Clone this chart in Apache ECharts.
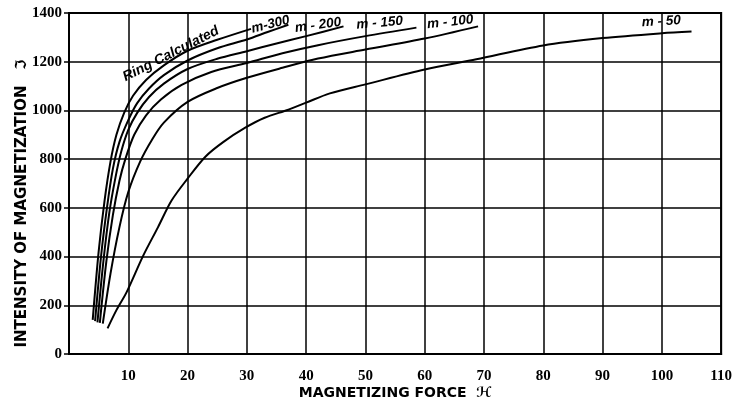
<!DOCTYPE html>
<html>
<head>
<meta charset="utf-8">
<script src="https://cdn.jsdelivr.net/npm/echarts@6/dist/echarts.min.js"></script>
<style>
html,body{margin:0;padding:0;background:#fff;}
#main{width:735px;height:405px;}
</style>
</head>
<body>
<div id="main"></div>
<script>
// curves: [H, I]
var ringData = [[4,140],[5,420],[6,630],[7,790],[8,900],[9.3,990],[10.8,1060],[13,1125],[16,1185],[20,1245],[25,1290],[30.7,1335]];
var m300Data = [[4.4,135],[5.4,400],[6.4,600],[7.4,760],[8.5,870],[10,960],[11.5,1030],[13.5,1090],[16,1145],[20,1205],[25,1255],[30,1291],[33.5,1322],[37,1352]];
var m200Data = [[4.8,130],[5.8,380],[6.8,580],[7.8,720],[8.8,830],[10,920],[11.5,990],[13.5,1055],[16,1110],[20,1170],[25,1212],[30,1243],[35,1275],[40,1305],[46.3,1345]];
var m150Data = [[5.2,128],[6.3,380],[7.4,570],[8.5,710],[9.5,800],[11,900],[13,980],[15.5,1045],[19,1105],[24,1158],[30,1195],[36,1235],[42,1268],[50,1305],[58.6,1340]];
var m100Data = [[5.7,125],[7,330],[8.5,520],[10,665],[12,790],[14,880],[16,950],[20,1035],[25,1092],[30,1134],[36,1175],[42,1213],[50,1250],[60,1295],[69,1345]];
var m50Data = [[6.5,105],[8,180],[9.7,253],[12.5,403],[15,520],[17.3,630],[20,720],[23,810],[26,870],[29.8,930],[33,970],[37,1003],[40,1032],[44,1070],[50,1107],[60,1168],[68.7,1210],[80,1267],[90,1297],[100,1317],[105,1324]];

// label text, anchor [H, I], slant in degrees, size
var curveLabels = [
    ['Ring Calculated', 17.2, 1232, 27, 14],
    ['m-300', 34.0, 1353, 14, 13.5],
    ['m - 200', 42.0, 1350, 8, 13.5],
    ['m - 150', 52.4, 1359, 5, 13.5],
    ['m - 100', 64.3, 1363, 6, 13.5],
    ['m - 50', 99.9, 1365, 3, 13.5]
];

var chart = echarts.init(document.getElementById('main'));

function makeCurve(name, data){
    return {
        name: name,
        type: 'line',
        data: data,
        smooth: 0.3,
        symbol: 'none',
        lineStyle: {color: '#000', width: 2},
        z: 5,
        silent: true
    };
}

var tickFont = {color: '#000', fontFamily: 'Liberation Serif', fontWeight: 'bold', fontSize: 15};

var option = {
    animation: false,
    backgroundColor: '#fff',
    grid: {left: 69, right: 8, top: 13, bottom: 47, show: true, borderColor: '#000', borderWidth: 2},
    xAxis: {
        type: 'value',
        min: 0, max: 110, interval: 10,
        name: 'MAGNETIZING FORCE  ℋ',
        nameLocation: 'middle',
        nameGap: 32,
        nameMoveOverlap: false,
        nameTextStyle: {color: '#000', fontFamily: 'DejaVu Sans', fontWeight: 'bold', fontSize: 14},
        axisLine: {show: true, lineStyle: {color: '#000', width: 2}},
        axisTick: {show: false},
        axisLabel: Object.assign({margin: 15, formatter: function(v){ return v === 0 ? '' : String(v); }}, tickFont),
        splitLine: {show: true, lineStyle: {color: '#000', width: 1.5}}
    },
    yAxis: {
        type: 'value',
        min: 0, max: 1400, interval: 200,
        name: 'INTENSITY OF MAGNETIZATION   ℑ',
        nameLocation: 'middle',
        nameGap: 39,
        nameMoveOverlap: false,
        nameRotate: 90,
        nameTextStyle: {color: '#000', fontFamily: 'DejaVu Sans', fontWeight: 'bold', fontSize: 15, padding: [0, 40, 0, 0]},
        axisLine: {show: true, lineStyle: {color: '#000', width: 2}},
        axisTick: {show: true, length: 5, lineStyle: {color: '#000', width: 1.5}},
        axisLabel: Object.assign({margin: 7, formatter: function(v){ return String(v); }}, tickFont),
        splitLine: {show: true, lineStyle: {color: '#000', width: 1.5}}
    },
    series: [
        makeCurve('Ring Calculated', ringData),
        makeCurve('m-300', m300Data),
        makeCurve('m-200', m200Data),
        makeCurve('m-150', m150Data),
        makeCurve('m-100', m100Data),
        makeCurve('m-50', m50Data)
    ]
};
chart.setOption(option);

// curve names written along the lines
var texts = [];
for (var i = 0; i < curveLabels.length; i++) {
    var lb = curveLabels[i];
    var p = chart.convertToPixel({gridIndex: 0}, [lb[1], lb[2]]);
    texts.push({
        type: 'text',
        x: p[0], y: p[1],
        rotation: lb[3] * Math.PI / 180,
        z: 10,
        style: {
            text: lb[0],
            fill: '#000',
            font: 'italic bold ' + lb[4] + 'px "Liberation Sans"',
            align: 'center',
            verticalAlign: 'middle'
        }
    });
}
chart.setOption({graphic: texts});
</script>
</body>
</html>
